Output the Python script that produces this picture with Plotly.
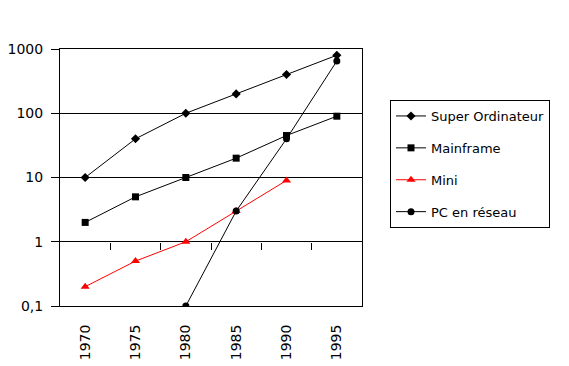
import plotly.graph_objects as go

years = ["1970", "1975", "1980", "1985", "1990", "1995"]
super_ordinateur = [10, 40, 100, 200, 400, 800]
mainframe = [2, 5, 10, 20, 45, 90]
mini = [0.2, 0.5, 1, 3, 9, None]
pc_reseau = [None, None, 0.1, 3, 40, 650]

y_tickvals = [0.1, 1, 10, 100, 1000]
y_ticktext = ["0,1", "1", "10", "100", "1000"]

idx = list(range(len(years)))
FONT = "DejaVu Sans"

series = [
    ("Super Ordinateur", super_ordinateur, "black", "diamond", 7),
    ("Mainframe", mainframe, "black", "square", 7),
    ("Mini", mini, "#ff0000", "triangle-up", 8),
    ("PC en réseau", pc_reseau, "black", "circle", 7),
]

fig = go.Figure()
for i, (name, vals, col, sym, sz) in enumerate(series):
    fig.add_trace(go.Scatter(
        x=idx, y=vals, name=name, mode="lines+markers",
        line=dict(color=col, width=1),
        marker=dict(symbol=sym, size=sz, color=col),
        legendgroup="g%d" % i, connectgaps=False,
    ))

# dummy trace on secondary x axis carrying the category boundary ticks at y=1
fig.add_trace(go.Scatter(x=[None], y=[None], xaxis="x2", showlegend=False, hoverinfo="skip"))

bounds = [i + 0.5 for i in idx[:-1]]

fig.update_layout(
    width=569, height=366,
    margin=dict(l=60, r=207, t=49, b=60, autoexpand=False),
    paper_bgcolor="white", plot_bgcolor="white",
    font=dict(family=FONT, size=14, color="black"),
    showlegend=True,
    legend=dict(
        x=(390 - 60) / 302, y=(306 - 100) / 257, xanchor="left", yanchor="top",
        bordercolor="black", borderwidth=1, bgcolor="white",
        font=dict(family=FONT, size=13, color="black"),
        tracegroupgap=12, traceorder="grouped",
    ),
    xaxis=dict(
        range=[-0.5, len(years) - 0.5], tickmode="array", tickvals=idx, ticktext=years,
        tickangle=-90, ticks="", showgrid=False, zeroline=False,
        showline=True, linecolor="black", linewidth=1, mirror=True,
        ticklabelstandoff=12, tickfont=dict(size=14), automargin=False,
    ),
    xaxis2=dict(
        overlaying="x", anchor="free", position=0.25, matches="x",
        range=[-0.5, len(years) - 0.5], tickmode="array", tickvals=bounds,
        ticks="outside", ticklen=7, tickcolor="black", tickwidth=1,
        showticklabels=False, showgrid=False, zeroline=False, showline=False,
        automargin=False,
    ),
    yaxis=dict(
        type="log", range=[-1, 3], tickmode="array", tickvals=y_tickvals, ticktext=y_ticktext,
        ticks="outside", ticklen=8, tickcolor="black",
        showgrid=True, gridcolor="black", gridwidth=1, zeroline=False,
        showline=True, linecolor="black", linewidth=1, mirror=True,
        ticklabelstandoff=5, tickfont=dict(size=14), automargin=False,
    ),
)

fig.write_html(
    "out.html",
    config={"displayModeBar": False},
    post_script="document.body.style.margin='0';document.body.style.overflow='hidden';",
)
